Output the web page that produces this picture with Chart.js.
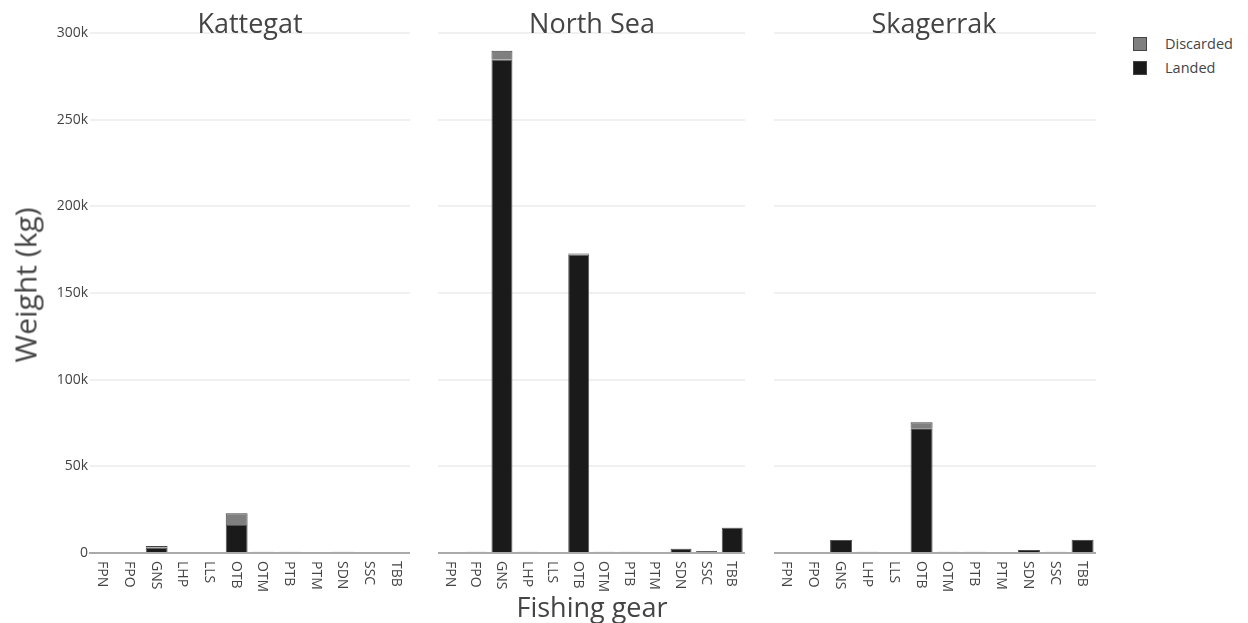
<!DOCTYPE html>
<html>
<head>
<meta charset="utf-8">
<script src="https://cdn.jsdelivr.net/npm/chart.js@4/dist/chart.umd.min.js"></script>
<style>
  body { margin: 0; background: #fff; font-family: "Open Sans", sans-serif; color: #444; }
  #wrap { position: relative; width: 1248px; height: 623px; overflow: hidden; }
  canvas { position: absolute; top: 0; }
  .title { position: absolute; top: 22px; font-size: 27px; transform: translate(-50%, -50%); white-space: nowrap; }
  .axtitle { position: absolute; font-size: 27px; white-space: nowrap; }
  .legend { position: absolute; left: 1133px; top: 33px; font-size: 14.5px; }
  .legend div { height: 24px; line-height: 22px; position: relative; padding-left: 32px; }
  .legend span { position: absolute; left: 0; top: 4px; width: 14px; height: 14px; border: 1px solid #444; box-sizing: border-box; }
</style>
</head>
<body>
<div id="wrap">
  <canvas id="c_kattegat" width="410" height="623" style="left:0px"></canvas>
  <canvas id="c_northsea" width="307" height="623" style="left:438px"></canvas>
  <canvas id="c_skagerrak" width="322" height="623" style="left:774px"></canvas>
  <div class="title" style="left:250px">Kattegat</div>
  <div class="title" style="left:592px">North Sea</div>
  <div class="title" style="left:934px">Skagerrak</div>
  <div class="axtitle" style="left:25px; top:285px; font-size:30px; transform: translate(-50%,-50%) rotate(-90deg);">Weight (kg)</div>
  <div class="axtitle" style="left:592px; top:606px; transform: translate(-50%,-50%);">Fishing gear</div>
  <div class="legend">
    <div><span style="background:#7f7f7f"></span>Discarded</div>
    <div><span style="background:#1a1a1a"></span>Landed</div>
  </div>
</div>
<script>
const gears = ['FPN', 'FPO', 'GNS', 'LHP', 'LLS', 'OTB', 'OTM', 'PTB', 'PTM', 'SDN', 'SSC', 'TBB'];

// weight in kg
const kattegatLanded    = [0, 0, 3000, 0, 0, 16200, 700, 700, 0, 700, 0, 0];
const kattegatDiscarded = [0, 0, 1000, 0, 0, 6700, 0, 0, 0, 0, 0, 0];
const northSeaLanded    = [0, 700, 284500, 700, 0, 172000, 700, 700, 0, 2500, 1200, 14500];
const northSeaDiscarded = [0, 0, 5300, 0, 0, 800, 0, 0, 0, 100, 0, 200];
const skagerrakLanded    = [0, 0, 7500, 700, 0, 72000, 700, 700, 0, 1800, 700, 7500];
const skagerrakDiscarded = [0, 0, 0, 0, 0, 3500, 0, 0, 0, 0, 0, 200];

const yTicks = [0, 50000, 100000, 150000, 200000, 250000, 300000];

// plotly style labels: rotated clockwise, reading downwards
const rotatedLabels = {
    id: 'rotatedLabels',
    afterDraw(chart) {
        const scale = chart.scales.x;
        const ctx = chart.ctx;
        ctx.save();
        ctx.fillStyle = '#444';
        ctx.font = '14px "Open Sans"';
        ctx.textAlign = 'left';
        ctx.textBaseline = 'middle';
        chart.data.labels.forEach((label, i) => {
            const x = scale.getPixelForTick(i);
            ctx.save();
            ctx.translate(x - 1, scale.top + 8);
            ctx.rotate(Math.PI / 2);
            ctx.fillText(label, 0, 0);
            ctx.restore();
        });
        ctx.restore();
    }
};

const makeChart = (id, landed, discarded, showY) => {
    return new Chart(document.getElementById(id), {
        type: 'bar',
        data: {
            labels: gears,
            datasets: [
                {
                    label: 'Landed',
                    data: landed,
                    backgroundColor: '#1a1a1a',
                    borderColor: '#555',
                    borderWidth: 1,
                },
                {
                    label: 'Discarded',
                    data: discarded,
                    backgroundColor: '#7f7f7f',
                    borderColor: '#444',
                    borderWidth: 1,
                }
            ]
        },
        options: {
            responsive: false,
            animation: false,
            layout: { padding: { top: 33, bottom: 0, left: 0, right: 0 } },
            datasets: { bar: { categoryPercentage: 1, barPercentage: 0.82 } },
            plugins: {
                legend: { display: false },
                tooltip: { enabled: false },
            },
            scales: {
                x: {
                    stacked: true,
                    grid: { display: false },
                    border: { color: '#aaa', width: 2 },
                    ticks: { display: false },
                    afterFit: (scale) => { scale.height = 70; },
                },
                y: {
                    stacked: true,
                    min: 0,
                    max: 300000,
                    afterBuildTicks: (scale) => { scale.ticks = yTicks.map((v) => ({ value: v })); },
                    grid: { color: '#f0f0f0', lineWidth: 2, drawTicks: false },
                    border: { display: false },
                    ticks: {
                        display: showY,
                        color: '#444',
                        padding: 2,
                        font: { family: 'Open Sans', size: 14 },
                        callback: (v) => v === 0 ? '0' : (v / 1000) + 'k',
                    },
                    afterFit: (scale) => { scale.width = showY ? 90 : 0; },
                }
            }
        },
        plugins: [rotatedLabels],
    });
};

makeChart('c_kattegat', kattegatLanded, kattegatDiscarded, true);
makeChart('c_northsea', northSeaLanded, northSeaDiscarded, false);
makeChart('c_skagerrak', skagerrakLanded, skagerrakDiscarded, false);
</script>
</body>
</html>
